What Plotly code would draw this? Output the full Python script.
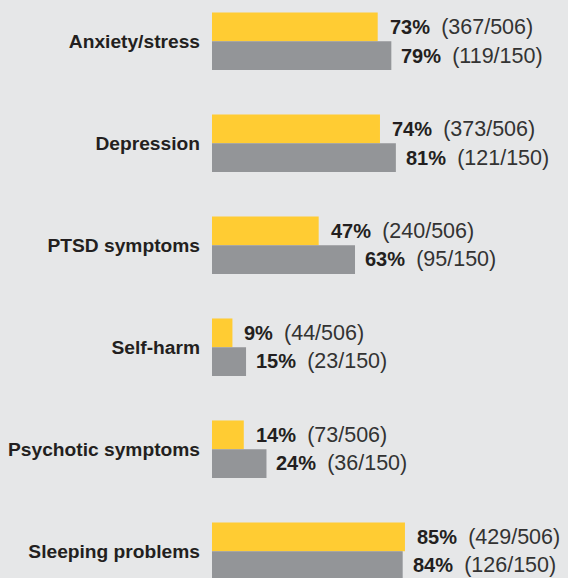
import plotly.graph_objects as go

categories = ["Anxiety/stress", "Depression", "PTSD symptoms", "Self-harm",
              "Psychotic symptoms", "Sleeping problems"]
pct_yellow = [73, 74, 47, 9, 14, 85]
n_yellow = [367, 373, 240, 44, 73, 429]
total_yellow = 506
pct_gray = [79, 81, 63, 15, 24, 84]
n_gray = [119, 121, 95, 23, 36, 126]
total_gray = 150

YELLOW = "#FFCC33"
GRAY = "#939598"
BG = "#E6E7E8"
TXT = "#231F20"
FONT = "Liberation Sans, Arial, sans-serif"

fig = go.Figure()
fig.add_trace(go.Bar(y=categories, x=pct_yellow, orientation="h",
                     marker=dict(color=YELLOW, line=dict(width=0)),
                     hoverinfo="skip"))
fig.add_trace(go.Bar(y=categories, x=pct_gray, orientation="h",
                     marker=dict(color=GRAY, line=dict(width=0)),
                     hoverinfo="skip"))

bar_off = 14.3
count_style = "color:#333333;font-size:21.5px"
annotations = []
for cat, p, n in zip(categories, pct_yellow, n_yellow):
    annotations.append(dict(
        x=p, y=cat, xref="x", yref="y", xanchor="left", yanchor="middle",
        xshift=10, yshift=bar_off, showarrow=False,
        text=f"<b>{p}%</b>\u00a0\u00a0<span style='{count_style}'>({n}/{total_yellow})</span>",
        font=dict(family=FONT, size=20, color=TXT)))
for cat, p, n in zip(categories, pct_gray, n_gray):
    annotations.append(dict(
        x=p, y=cat, xref="x", yref="y", xanchor="left", yanchor="middle",
        xshift=8, yshift=-bar_off, showarrow=False,
        text=f"<b>{p}%</b>\u00a0\u00a0<span style='{count_style}'>({n}/{total_gray})</span>",
        font=dict(family=FONT, size=20, color=TXT)))

fig.update_layout(
    width=568, height=578,
    margin=dict(l=212, r=0, t=0, b=0, pad=0, autoexpand=False),
    paper_bgcolor=BG, plot_bgcolor=BG,
    barmode="group", bargap=0.437, bargroupgap=0,
    showlegend=False,
    annotations=annotations,
    font=dict(family=FONT, color=TXT),
)
fig.update_xaxes(range=[0, 356 / 2.27], visible=False, showgrid=False,
                 zeroline=False, fixedrange=True, automargin=False)
fig.update_yaxes(type="category", categoryorder="array", categoryarray=categories,
                 range=[5.263, -0.404], showgrid=False, zeroline=False,
                 showline=False, ticks="", ticklabelstandoff=11, automargin=False,
                 tickfont=dict(family=FONT, size=19.2, color=TXT, weight="bold"),
                 fixedrange=True)

post = ("document.body.style.margin='0';"
        "document.body.style.background='%s';"
        "document.documentElement.style.overflow='hidden';" % BG)
fig.write_html("out.html", config={"displayModeBar": False}, post_script=post)
